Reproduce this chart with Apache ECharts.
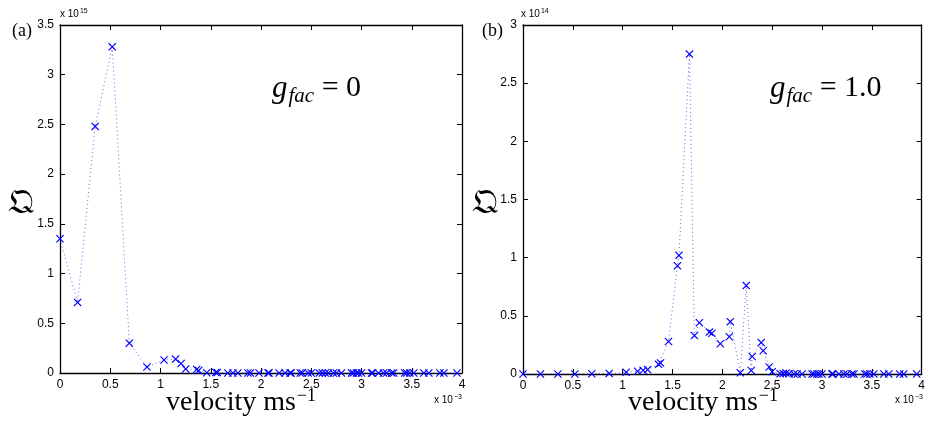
<!DOCTYPE html>
<html>
<head>
<meta charset="utf-8">
<script src="https://cdn.jsdelivr.net/npm/echarts@6/dist/echarts.min.js"></script>
<style>
html,body{margin:0;padding:0;background:#fff;}
#c{width:928px;height:426px;}
</style>
</head>
<body>
<div id="c"></div>
<script>
// velocity (x 10^-3 m/s)
var velocity = [0, 0.175, 0.35, 0.52, 0.69, 0.865, 1.035, 1.15, 1.205, 1.25, 1.36, 1.38, 1.46, 1.55, 1.565, 1.67, 1.72, 1.77, 1.87, 1.895, 1.98, 2.07, 2.08, 2.18, 2.24, 2.29, 2.30, 2.39, 2.41, 2.47, 2.50, 2.58, 2.61, 2.64, 2.67, 2.72, 2.75, 2.80, 2.90, 2.92, 2.95, 2.97, 3.00, 3.10, 3.11, 3.17, 3.22, 3.25, 3.30, 3.32, 3.43, 3.45, 3.48, 3.52, 3.62, 3.67, 3.78, 3.82, 3.95];
// (a) g_fac = 0, Q in units of 10^15
var qA = [1.35, 0.71, 2.48, 3.28, 0.30, 0.06, 0.13, 0.14, 0.095, 0.04, 0.035, 0.025, 0.003, 0.005, 0.004, 0, 0, 0, 0, 0, 0, 0, 0, 0, 0, 0, 0, 0, 0, 0, 0, 0, 0, 0, 0, 0, 0, 0, 0, 0, 0, 0, 0, 0, 0, 0, 0, 0, 0, 0, 0, 0, 0, 0, 0, 0, 0, 0, 0];
// (b) g_fac = 1.0, Q in units of 10^14
var qB = [0, 0, 0, 0, 0.002, 0.005, 0.015, 0.023, 0.032, 0.038, 0.083, 0.095, 0.28, 0.93, 1.02, 2.75, 0.33, 0.44, 0.36, 0.35, 0.26, 0.32, 0.45, 0.01, 0.76, 0.03, 0.15, 0.27, 0.20, 0.06, 0.02, 0.003, 0.005, 0.008, 0.003, 0, 0, 0, 0, 0, 0, 0, 0, 0, 0, 0, 0, 0, 0, 0, 0, 0, 0, 0, 0, 0, 0, 0, 0];
var xTicks = [0, 0.5, 1, 1.5, 2, 2.5, 3, 3.5, 4];

var chart = echarts.init(document.getElementById('c'), null, {renderer: 'canvas'});
var black = '#000';
var xSym = 'path://M0,1L1,0L5,4L9,0L10,1L6,5L10,9L9,10L5,6L1,10L0,9L4,5Z';
var labelFont = {color: black, fontFamily: 'Liberation Sans, Arial, sans-serif', fontSize: 12};

function xAx(grid, pos, showLabel) {
  return {
    type: 'value', gridIndex: grid, position: pos,
    min: xTicks[0], max: xTicks[xTicks.length - 1], interval: 0.5,
    axisLine: {show: true, onZero: false, lineStyle: {color: black, width: 1.3}},
    axisTick: {show: true, inside: true, length: 5, lineStyle: {color: black}},
    axisLabel: Object.assign({show: showLabel, margin: 6}, labelFont),
    splitLine: {show: false}
  };
}
function yAx(grid, pos, max, showLabel) {
  return {
    type: 'value', gridIndex: grid, position: pos,
    min: 0, max: max, interval: 0.5,
    axisLine: {show: true, onZero: false, lineStyle: {color: black, width: 1.3}},
    axisTick: {show: true, inside: true, length: 5, lineStyle: {color: black}},
    axisLabel: Object.assign({show: showLabel, margin: 6}, labelFont),
    splitLine: {show: false}
  };
}
function pairs(q) {
  return velocity.map(function (v, i) { return [v, q[i]]; });
}
function series(xi, yi, q) {
  return {
    type: 'line', xAxisIndex: xi, yAxisIndex: yi, data: pairs(q),
    symbol: xSym, symbolSize: 8, showSymbol: true,
    itemStyle: {color: '#0000ff'},
    lineStyle: {color: '#3333ff', width: 1, type: [1, 3], opacity: 0.75},
    animation: false, clip: false
  };
}

var serif = 'Liberation Serif, Times New Roman, serif';
function gText(x, y, val) {
  return {
    type: 'text', left: x, top: y,
    style: {
      text: '{g|g}{s|fac}{n| = ' + val + '}',
      rich: {
        g: {fontFamily: serif, fontStyle: 'italic', fontSize: 31, fill: black, lineHeight: 34},
        s: {fontFamily: serif, fontStyle: 'italic', fontSize: 21, fill: black, lineHeight: 20, padding: [16, 0, 0, 1]},
        n: {fontFamily: serif, fontSize: 30, fill: black, lineHeight: 34}
      }
    }
  };
}
function velText(x, y) {
  return {
    type: 'text', left: x, top: y,
    style: {
      text: '{a|velocity ms}{b|\u22121}',
      rich: {
        a: {fontFamily: serif, fontSize: 28, fill: black, lineHeight: 30},
        b: {fontFamily: serif, fontSize: 18, fill: black, lineHeight: 18, padding: [0, 0, 13, 1]}
      }
    }
  };
}
function expText(x, y, e) {
  return {
    type: 'text', left: x, top: y,
    style: {
      text: '{a|x 10}{b|' + e + '}',
      rich: {
        a: {fontFamily: 'Liberation Sans, Arial, sans-serif', fontSize: 10, fill: black, lineHeight: 12},
        b: {fontFamily: 'Liberation Sans, Arial, sans-serif', fontSize: 7, fill: black, lineHeight: 7, padding: [0, 0, 6, 1]}
      }
    }
  };
}
function simple(x, y, txt, size, font) {
  return {type: 'text', left: x, top: y, style: {text: txt, fontFamily: font, fontSize: size, fill: black}};
}

chart.setOption({
  backgroundColor: '#fff',
  animation: false,
  grid: [
    {left: 60, right: 466, top: 25, bottom: 53, containLabel: false},
    {left: 523, right: 4, top: 25, bottom: 52, containLabel: false}
  ],
  xAxis: [xAx(0, 'bottom', true), xAx(0, 'top', false), xAx(1, 'bottom', true), xAx(1, 'top', false)],
  yAxis: [yAx(0, 'left', 3.5, true), yAx(0, 'right', 3.5, false), yAx(1, 'left', 3, true), yAx(1, 'right', 3, false)],
  series: [series(0, 0, qA), series(2, 2, qB)],
  graphic: [
    simple(12, 22, '(a)', 18, serif),
    simple(482, 22, '(b)', 18, serif),
    expText(60, 8, '15'),
    expText(521, 8, '14'),
    expText(434, 394, '\u22123'),
    expText(895, 394, '\u22123'),
    gText(272, 70, '0'),
    gText(770, 70, '1.0'),
    velText(166, 387),
    velText(628, 387),
    simple(8, 186, '\uD835\uDD14', 35, 'DejaVu Serif, DejaVu Sans, serif'),
    simple(472, 186, '\uD835\uDD14', 35, 'DejaVu Serif, DejaVu Sans, serif')
  ]
});
</script>
</body>
</html>
